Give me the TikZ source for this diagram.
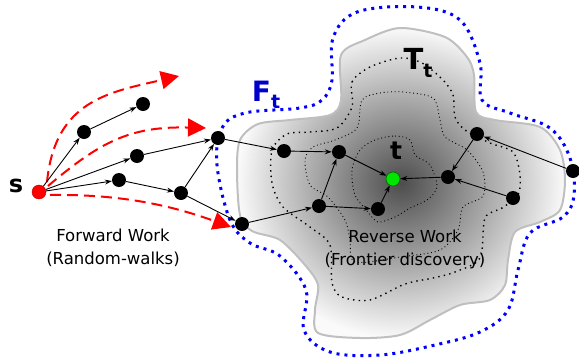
\documentclass[tikz,border=0pt]{standalone}
\usepackage{fontspec}
\setmainfont{DejaVu Sans}
\usetikzlibrary{arrows.meta,positioning}

\begin{document}
\begin{tikzpicture}[x=1pt,y=-1pt,
    vertex/.style={circle,fill=black,inner sep=0pt,minimum size=14pt},
    source/.style={circle,fill=red,draw=red!75!black,line width=0.4pt,inner sep=0pt,minimum size=14pt},
    target/.style={circle,fill=green!90!black,draw=green!40!black,line width=0.6pt,inner sep=0pt,minimum size=14pt},
    edge/.style={-{Stealth[length=7pt,width=5pt]},line width=0.9pt},
    walk/.style={red,line width=2pt,dash pattern=on 11pt off 6pt,-{Triangle[length=18pt,width=18pt]}},
    level/.style={line width=1.4pt,dash pattern=on 1.4pt off 4.2pt},
    sublevel/.style={line width=0.9pt,dash pattern=on 0.9pt off 2.8pt},
    caption/.style={font=\fontsize{16.5}{23}\selectfont,align=center}]
  \useasboundingbox (0,0) rectangle (579,362);

  % frontier F_t
  \draw[blue,line width=3pt,dash pattern=on 3pt off 5pt]
    plot[smooth cycle,tension=0.6] coordinates {(217,165) (222,128) (245,113) (300,108) (322,100) (332,80)
      (333,38) (357,12) (417,7) (460,20) (480,63) (482,100) (510,113) (550,128) (570,158) (574,195)
      (563,217) (530,233) (518,270) (508,310) (480,332) (435,345) (380,355) (330,352) (304,330)
      (306,290) (280,256) (250,243) (230,220)};

  % target set T_t
  \shadedraw[inner color=black!70,outer color=black!2,draw=black!25,line width=2pt]
    plot[smooth cycle,tension=0.5] coordinates {(237,170) (240,140) (258,124) (290,120) (330,115)
      (341,100) (341,55) (365,40) (400,28) (445,37) (467,57) (474,75) (476,112) (495,120)
      (540,127) (560,150) (565,180) (560,210) (540,222) (515,232) (508,260) (505,285) (490,300)
      (460,305) (430,320) (400,335) (360,338) (318,333) (315,310) (318,285) (305,265) (280,240)
      (252,231) (240,215)};

  % level sets
  \draw[level] plot[smooth cycle,tension=0.5] coordinates {(352,107) (352,82) (370,67) (400,58)
    (422,63) (443,80) (453,95) (455,117) (465,130) (490,143) (513,152) (520,175) (518,195)
    (502,208) (485,218) (480,258) (455,272) (433,278) (405,284) (370,300) (342,297) (332,283)
    (330,245) (310,227) (283,207) (272,183) (272,150) (287,134) (310,132) (337,128)};
  \draw[sublevel] plot[smooth cycle,tension=0.5] coordinates {(362,100) (380,93) (403,92)
    (433,98) (440,120) (445,137) (467,150) (483,172) (483,196) (463,207) (458,230) (440,250)
    (400,257) (355,262) (350,240) (345,220) (328,197) (310,185) (305,160) (313,147) (335,140)
    (357,128)};
  \draw[sublevel] plot[smooth cycle,tension=0.5] coordinates {(375,140) (395,136) (410,140)
    (415,155) (430,165) (437,187) (427,200) (410,208) (395,217) (378,222) (368,212) (355,195)
    (352,170) (360,150)};

  % nodes
  \node[source] (s) at (39,192) {};
  \node[vertex] (w1) at (84,132) {};
  \node[vertex] (w2) at (143,104) {};
  \node[vertex] (w3) at (137,156) {};
  \node[vertex] (w4) at (119,180) {};
  \node[vertex] (w5) at (181,193) {};
  \node[vertex] (w6) at (218,138) {};
  \node[vertex] (w7) at (242,224) {};
  \node[vertex] (r1) at (284,151) {};
  \node[vertex] (r2) at (339,152) {};
  \node[vertex] (r3) at (319,206) {};
  \node[vertex] (r4) at (378,209) {};
  \node[target] (t) at (393,179) {};
  \node[vertex] (r5) at (448,177) {};
  \node[vertex] (r6) at (477,134) {};
  \node[vertex] (r7) at (513,198) {};
  \node[vertex] (r8) at (573,171) {};

  % random walks
  \draw[walk] (47,182) .. controls (55,100) and (110,92) .. (179,76);
  \draw[walk] (48,186) .. controls (100,142) and (130,126) .. (206,128);
  \draw[walk] (50,195) .. controls (120,194) and (170,205) .. (231,227);

  % edges
  \draw[edge] (s) -- (w1);
  \draw[edge] (w1) -- (w2);
  \draw[edge] (s) -- (w3);
  \draw[edge] (s) -- (w4);
  \draw[edge] (w4) -- (w5);
  \draw[edge] (w3) -- (w6);
  \draw[edge] (w5) -- (w6);
  \draw[edge] (w5) -- (w7);
  \draw[edge] (w6) -- (r1);
  \draw[edge] (r1) -- (r2);
  \draw[edge] (w7) -- (r3);
  \draw[edge] (r3) -- (r2);
  \draw[edge] (r3) -- (r4);
  \draw[edge] (r2) -- (t);
  \draw[edge] (r4) -- (t);
  \draw[edge] (r5) -- (t);
  \draw[edge] (r6) -- (r5);
  \draw[edge] (r7) -- (r5);
  \draw[edge] (r8) -- (r6);

  % labels
  \node[font=\fontsize{24}{24}\selectfont\bfseries] (lbls) at (16,186) {s};
  \node[font=\fontsize{25}{25}\selectfont\bfseries] (lblt) at (396,151) {t};
  \node[font=\fontsize{29}{29}\selectfont\bfseries] (lblT) at (418,63)
    {T\raisebox{-0.25em}{\fontsize{19}{19}\selectfont t}};
  \node[font=\fontsize{28}{28}\selectfont\bfseries,text=blue!80!black] (lblF) at (266,95)
    {F\raisebox{-0.25em}{\fontsize{19}{19}\selectfont t}};
  \node[caption] (fwd) at (113,248) {Forward Work\\(Random-walks)};
  \node[caption] (rev) at (405,249) {Reverse Work\\(Frontier discovery)};
\end{tikzpicture}
\end{document}
